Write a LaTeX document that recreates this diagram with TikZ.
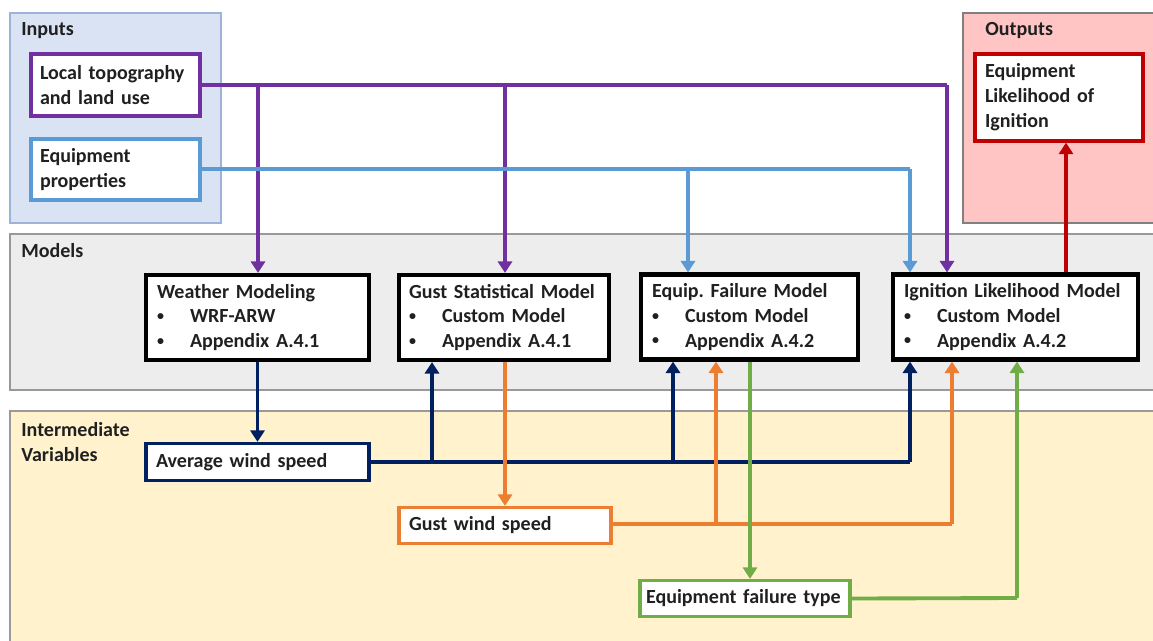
\documentclass[tikz,border=0pt]{standalone}
\usepackage{fontspec}
\usepackage{graphicx}
\setmainfont{Carlito}
\usetikzlibrary{arrows.meta}
\definecolor{cpurple}{HTML}{7030A0}
\definecolor{cblue}{HTML}{5B9BD5}
\definecolor{cred}{HTML}{C00000}
\definecolor{cnavy}{HTML}{002060}
\definecolor{corange}{HTML}{ED7D31}
\definecolor{cgreen}{HTML}{70AD47}
\definecolor{inpfill}{HTML}{DAE3F3}
\definecolor{inpdraw}{HTML}{9DB3D8}
\definecolor{outfill}{HTML}{FFC5C5}
\definecolor{modfill}{HTML}{EDEDED}
\definecolor{intfill}{HTML}{FFF2CC}
\definecolor{txt}{HTML}{202020}
\frenchspacing
\begin{document}
\begin{tikzpicture}[x=0.02cm,y=-0.02cm,
  every node/.style={font=\fontsize{11.4}{14.2}\selectfont\bfseries, text=txt},
  panel/.style={line width=0.8pt},
  plabel/.style={anchor=north west, inner sep=0pt, align=left},
  box/.style={draw, fill=white, line width=1.9pt, inner xsep=0.2cm, inner ysep=0pt, align=left, anchor=center},
  mbox/.style={box, draw=black, line width=2.4pt, inner xsep=0.22cm, minimum height=1.7cm},
  conn/.style={line width=2.2pt},
  arr/.style={conn, -{Triangle[width=8pt,length=6.5pt]}}
]
\useasboundingbox (0,0) rectangle (1153,640);
\fill[white] (0,0) rectangle (1153,640);
% panels
\draw[panel, fill=inpfill, draw=inpdraw] (10,13) rectangle (221,223);
\draw[panel, fill=outfill, draw=gray] (963,13) rectangle (1160,223);
\draw[panel, fill=modfill, draw=gray!80] (10,234) rectangle (1160,390);
\draw[panel, fill=intfill, draw=gray!80] (10,411) rectangle (1160,650);
\node[plabel] (linp) at (21,22) {Inputs};
\node[plabel] (lout) at (985,22) {Outputs};
\node[plabel] (lmod) at (21,243) {Models};
\node[plabel] (lint) at (21,422) {Intermediate\\Variables};
% inputs / outputs
\node[box, draw=cpurple, inner xsep=0.18cm, text width=3.02cm, minimum height=1.24cm] (topo) at (115.5,85) {Local topography\\and land use};
\node[box, draw=cblue, inner xsep=0.18cm, text width=3.02cm, minimum height=1.22cm] (eqp) at (115.5,169.5) {Equipment\\properties};
\node[box, draw=cred, text width=2.96cm, minimum height=1.74cm] (out) at (1059,97.5) {Equipment\\Likelihood of\\Ignition};
% models
\newcommand{\bit}[1]{\makebox[0.66cm][l]{\raisebox{0.25ex}{\scalebox{0.7}{\textbullet}}}#1}
\node[mbox, text width=4.02cm] (wm) at (257.5,317.5) {Weather Modeling\\\bit{WRF-ARW}\\\bit{Appendix A.4.1}};
\node[mbox, inner xsep=0.2cm, text width=3.8cm] (gs) at (504,317.5) {Gust Statistical Model\\\bit{Custom Model}\\\bit{Appendix A.4.1}};
\node[mbox, text width=3.9cm] (ef) at (749.5,317) {Equip. Failure Model\\\bit{Custom Model}\\\bit{Appendix A.4.2}};
\node[mbox, text width=4.46cm] (ig) at (1015.5,317) {Ignition Likelihood Model\\\bit{Custom Model}\\\bit{Appendix A.4.2}};
% intermediate
\node[box, draw=cnavy, text width=4.06cm, minimum height=0.74cm] (aw) at (257.5,462) {Average wind speed};
\node[box, draw=corange, text width=3.84cm, minimum height=0.72cm] (gw) at (505,525.5) {Gust wind speed};
\node[box, draw=cgreen, inner xsep=0.12cm, text width=3.96cm, minimum height=0.72cm] (ft) at (745,598.5) {Equipment failure type};
% junction coordinates
\coordinate (jp1) at (258,85);
\coordinate (jp2) at (505,85);
\coordinate (jp3) at (947,85);
\coordinate (jb1) at (688,169);
\coordinate (jb2) at (910,169);
\coordinate (jn1) at (432,462);
\coordinate (jn2) at (673,462);
\coordinate (jn3) at (910,462);
\coordinate (jo1) at (716,524);
\coordinate (jo2) at (952,524);
\coordinate (jg1) at (1017,598);
% purple
\draw[conn, cpurple] (topo.east |- jp1) -- (jp3);
\draw[arr, cpurple] (jp1) -- (wm.north -| jp1);
\draw[arr, cpurple] (jp2) -- (gs.north -| jp2);
\draw[arr, cpurple] (jp3) -- (ig.north -| jp3);
% blue
\draw[conn, cblue] (eqp.east |- jb1) -- (jb2);
\draw[arr, cblue] (jb1) -- (ef.north -| jb1);
\draw[arr, cblue] (jb2) -- (ig.north -| jb2);
% red
\draw[arr, cred] (ig.north -| 1066,0) -- (out.south -| 1066,0);
% navy
\draw[arr, cnavy] (wm.south) -- (aw.north -| wm.south);
\draw[conn, cnavy] (aw.east) -- (jn3);
\draw[arr, cnavy] (jn1) -- (gs.south -| jn1);
\draw[arr, cnavy] (jn2) -- (ef.south -| jn2);
\draw[arr, cnavy] (jn3) -- (ig.south -| jn3);
% orange
\draw[arr, corange] (gs.south -| jp2) -- (gw.north -| jp2);
\draw[conn, corange] (gw.east |- jo1) -- (jo2);
\draw[arr, corange] (jo1) -- (ef.south -| jo1);
\draw[arr, corange] (jo2) -- (ig.south -| jo2);
% green
\draw[arr, cgreen] (ef.south -| 750,0) -- (ft.north -| 750,0);
\draw[conn, cgreen] (ft.east) -- (jg1);
\draw[arr, cgreen] (jg1) -- (ig.south -| jg1);
\end{tikzpicture}
\end{document}
